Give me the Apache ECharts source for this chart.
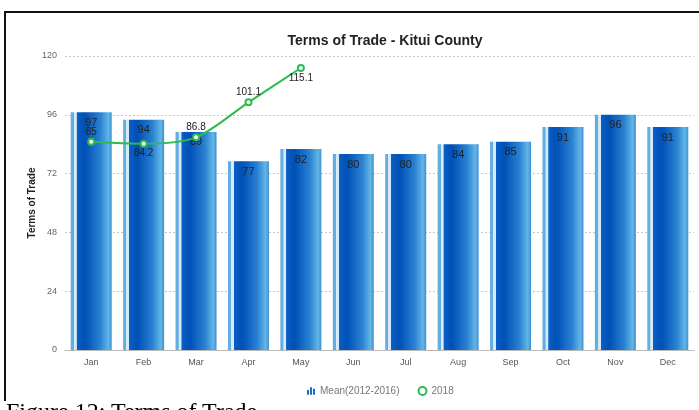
<!DOCTYPE html>
<html>
<head>
<meta charset="utf-8">
<script src="https://cdn.jsdelivr.net/npm/echarts@6/dist/echarts.min.js"></script>
<style>
html,body{margin:0;padding:0;background:#fff;width:699px;height:410px;overflow:hidden;}
#chart{position:absolute;left:0;top:0;width:699px;height:410px;}
#bt{position:absolute;left:5px;top:11px;width:694px;height:2px;background:#111;}
#bl{position:absolute;left:4px;top:11px;width:2px;height:390px;background:#111;}
#cap{position:absolute;left:6px;top:398px;font-family:"Liberation Serif","DejaVu Serif",serif;font-size:24px;line-height:normal;color:#000;white-space:nowrap;}
</style>
</head>
<body>
<div id="chart"></div>
<div id="bt"></div>
<div id="bl"></div>
<div id="cap">Figure 12: Terms of Trade</div>
<script>
var months = ['Jan','Feb','Mar','Apr','May','Jun','Jul','Aug','Sep','Oct','Nov','Dec'];
var meanValues = [97, 94, 89, 77, 82, 80, 80, 84, 85, 91, 96, 91];
var values2018 = [85, 84.2, 86.8, 101.1, 115.1];
var labelPos2018 = ['top', 'bottom', 'top', 'top', 'bottom'];
var yTicks = [0, 24, 48, 72, 96, 120];

var chart = echarts.init(document.getElementById('chart'));
var barGrad = new echarts.graphic.LinearGradient(0, 0, 1, 0, [
  {offset: 0, color: '#62aee0'},
  {offset: 0.07, color: '#62aee0'},
  {offset: 0.08, color: '#d6eaf7'},
  {offset: 0.14, color: '#d6eaf7'},
  {offset: 0.15, color: '#0a5ec4'},
  {offset: 0.35, color: '#0050b6'},
  {offset: 0.72, color: '#2a82d2'},
  {offset: 0.92, color: '#62b6e6'},
  {offset: 1, color: '#3d8ed4'}
]);
var lineData = values2018.map(function(v, i){
  return {value: v, label: {position: labelPos2018[i]}};
});
chart.setOption({
  animation: false,
  title: {
    text: 'Terms of Trade - Kitui County',
    left: 380, top: 29, textAlign: 'center',
    textStyle: {fontFamily: 'Liberation Sans, Arial, sans-serif', fontSize: 14, fontWeight: 'bold', color: '#222'}
  },
  legend: {
    left: 302, top: 381,
    itemWidth: 8, itemHeight: 8, itemGap: 18,
    textStyle: {fontFamily: 'Liberation Sans, Arial, sans-serif', fontSize: 10, color: '#777'},
    data: [
      {name: 'Mean(2012-2016)', icon: 'path://M0,5h3v7h-3z M4.5,1h3v11h-3z M9,3h3v9h-3z', itemStyle: {color: '#1a6fc8'}},
      {name: '2018', icon: 'emptyCircle', itemStyle: {borderWidth: 2}}
    ]
  },
  grid: {left: 65, right: 5, top: 56, bottom: 60},
  xAxis: {
    type: 'category',
    data: months,
    axisLine: {lineStyle: {color: '#bbb'}},
    axisTick: {show: false},
    axisLabel: {fontFamily: 'Liberation Sans, Arial, sans-serif', fontSize: 9, color: '#555', margin: 8}
  },
  yAxis: {
    type: 'value',
    min: yTicks[0], max: yTicks[yTicks.length - 1], interval: 24,
    name: 'Terms of Trade',
    nameLocation: 'middle', nameRotate: 90, nameGap: 28,
    nameMoveOverlap: false,
    nameTextStyle: {fontFamily: 'Liberation Sans, Arial, sans-serif', fontSize: 10, fontWeight: 'bold', color: '#222'},
    axisLine: {show: false},
    axisTick: {show: false},
    axisLabel: {fontFamily: 'Liberation Sans, Arial, sans-serif', fontSize: 9, color: '#666', margin: 8},
    splitLine: {lineStyle: {color: '#c8c8c8', type: [2, 2]}}
  },
  series: [
    {
      name: 'Mean(2012-2016)',
      type: 'bar',
      data: meanValues,
      barWidth: 41,
      itemStyle: {color: barGrad},
      label: {
        show: true, position: 'insideTop', distance: 5,
        fontFamily: 'Liberation Sans, Arial, sans-serif', fontSize: 11, color: '#222',
        textBorderWidth: 0
      },
      z: 2
    },
    {
      name: '2018',
      type: 'line',
      data: lineData,
      smooth: 0.3,
      symbol: 'emptyCircle',
      symbolSize: 6,
      lineStyle: {color: '#2bbb4e', width: 2},
      itemStyle: {color: '#2bbb4e', borderWidth: 1.5},
      label: {
        show: true, distance: 1,
        fontFamily: 'Liberation Sans, Arial, sans-serif', fontSize: 10, color: '#222',
        textBorderWidth: 0
      },
      labelLayout: {hideOverlap: false},
      z: 3
    }
  ]
});
</script>
</body>
</html>
